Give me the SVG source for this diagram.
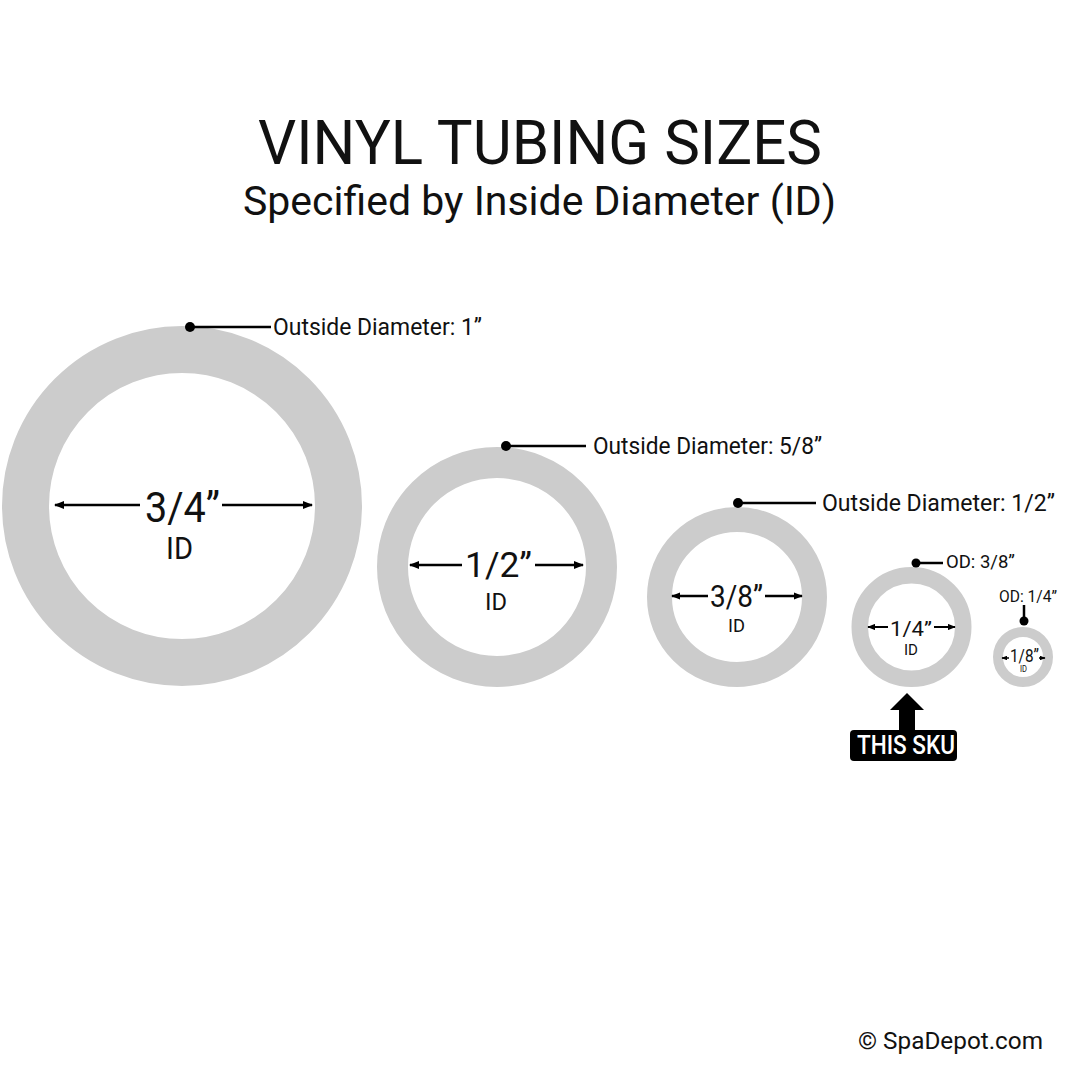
<svg xmlns="http://www.w3.org/2000/svg" width="1080" height="1080" viewBox="0 0 1080 1080">
<style>
text{font-family:Roboto,"Liberation Sans",sans-serif;fill:#111;}
.ring{fill:none;stroke:#cccccc;}
.lead{stroke:#000;stroke-width:2.5;fill:none;}
.dot{fill:#000;}
.dim{stroke:#000;fill:none;marker-end:url(#ah);}
.c{text-anchor:middle;}
</style>
<defs>
<marker id="ah" viewBox="0 0 10 8" markerWidth="4" markerHeight="3.2" refX="9" refY="4" orient="auto" markerUnits="strokeWidth">
<path d="M0,0 L10,4 L0,8 z" fill="#000"/>
</marker>
</defs>
<rect width="1080" height="1080" fill="#fff"/>
<g id="title">
<text x="258" y="164" font-size="62" textLength="564" lengthAdjust="spacingAndGlyphs">VINYL TUBING SIZES</text>
<text x="243" y="215" font-size="40" textLength="593" lengthAdjust="spacingAndGlyphs">Specified by Inside Diameter (ID)</text>
</g>
<g id="ring-3-4">
<circle class="ring" cx="182" cy="506" r="156.5" stroke-width="47"/>
<text x="145" y="522" font-size="43" textLength="75" lengthAdjust="spacingAndGlyphs">3/4”</text>
<text x="166" y="559" font-size="31" textLength="27" lengthAdjust="spacingAndGlyphs">ID</text>
</g>
<g id="ring-1-2">
<circle class="ring" cx="497" cy="567" r="104.5" stroke-width="31"/>
<text x="465" y="577" font-size="35" textLength="67" lengthAdjust="spacingAndGlyphs">1/2”</text>
<text x="485" y="610" font-size="23" textLength="22" lengthAdjust="spacingAndGlyphs">ID</text>
</g>
<g id="ring-3-8">
<circle class="ring" cx="737" cy="597" r="77.5" stroke-width="25"/>
<text x="710" y="607" font-size="31" textLength="53" lengthAdjust="spacingAndGlyphs">3/8”</text>
<text x="728" y="632" font-size="19" textLength="17" lengthAdjust="spacingAndGlyphs">ID</text>
</g>
<g id="ring-1-4">
<circle class="ring" cx="911.5" cy="627" r="51.75" stroke-width="16.5"/>
<text x="890" y="636" font-size="21" textLength="42" lengthAdjust="spacingAndGlyphs">1/4”</text>
<text x="904" y="655" font-size="14" textLength="14" lengthAdjust="spacingAndGlyphs">ID</text>
</g>
<g id="ring-1-8">
<circle class="ring" cx="1023" cy="657" r="25" stroke-width="10"/>
<text x="1010" y="662" font-size="18" textLength="29" lengthAdjust="spacingAndGlyphs">1/8”</text>
<text x="1020" y="672" font-size="9" textLength="7" lengthAdjust="spacingAndGlyphs">ID</text>
</g>
<g id="od-labels">
<text x="273" y="335" font-size="24" textLength="209" lengthAdjust="spacingAndGlyphs">Outside Diameter: 1”</text>
<text x="593" y="454" font-size="24" textLength="229" lengthAdjust="spacingAndGlyphs">Outside Diameter: 5/8”</text>
<text x="822" y="511" font-size="24" textLength="233" lengthAdjust="spacingAndGlyphs">Outside Diameter: 1/2”</text>
<text x="946" y="568" font-size="18" textLength="69" lengthAdjust="spacingAndGlyphs">OD: 3/8”</text>
<text x="999" y="602" font-size="16" textLength="58" lengthAdjust="spacingAndGlyphs">OD: 1/4”</text>
</g>
<g id="this-sku">
<polygon points="907,693 924,710 915,710 915,731 899,731 899,710 890,710" fill="#000"/>
<rect x="850" y="730" width="107" height="31" rx="4" fill="#000"/>
<text x="857" y="754" font-size="26" font-weight="500" textLength="98" lengthAdjust="spacingAndGlyphs" style="fill:#fff">THIS SKU</text>
</g>
<g id="connectors">
<line class="lead" x1="190" y1="327" x2="271" y2="327"/>
<circle class="dot" cx="190" cy="327" r="5"/>
<line class="lead" x1="506" y1="446" x2="586" y2="446"/>
<circle class="dot" cx="506" cy="446" r="5"/>
<line class="lead" x1="738" y1="503" x2="816" y2="503"/>
<circle class="dot" cx="738" cy="503" r="5"/>
<line class="lead" x1="916" y1="563" x2="943" y2="563"/>
<circle class="dot" cx="916" cy="563" r="4.5"/>
<line class="lead" x1="1024" y1="605" x2="1024" y2="621"/>
<circle class="dot" cx="1024" cy="621" r="4.5"/>
<line class="dim" stroke-width="2.5" x1="140" y1="505" x2="55" y2="505"/>
<line class="dim" stroke-width="2.5" x1="222" y1="505" x2="312" y2="505"/>
<line class="dim" stroke-width="2.5" x1="462" y1="565" x2="410" y2="565"/>
<line class="dim" stroke-width="2.5" x1="535" y1="565" x2="583" y2="565"/>
<line class="dim" stroke-width="2.3" x1="708" y1="596" x2="672" y2="596"/>
<line class="dim" stroke-width="2.3" x1="765" y1="596" x2="802" y2="596"/>
<line class="dim" stroke-width="2" x1="888" y1="627" x2="868" y2="627"/>
<line class="dim" stroke-width="2" x1="934" y1="627" x2="955" y2="627"/>
<line class="dim" stroke-width="1.5" x1="1009" y1="658" x2="1002" y2="658"/>
<line class="dim" stroke-width="1.5" x1="1039" y1="658" x2="1045" y2="658"/>
</g>
<g id="footer">
<text x="858" y="1049" font-size="24" textLength="185" lengthAdjust="spacingAndGlyphs">© SpaDepot.com</text>
</g>
</svg>
